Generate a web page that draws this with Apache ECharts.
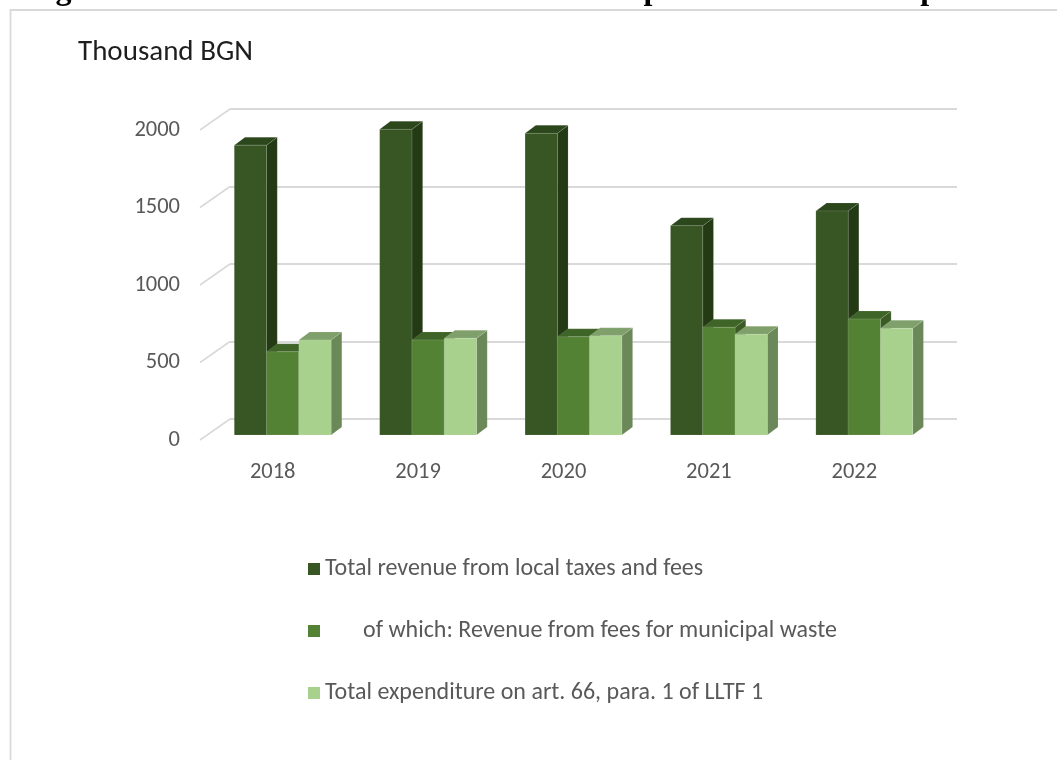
<!DOCTYPE html>
<html>
<head>
<meta charset="utf-8">
<script src="https://cdn.jsdelivr.net/npm/echarts@6/dist/echarts.min.js"></script>
<style>
  html, body { margin: 0; padding: 0; background: #ffffff; }
  #chart { width: 1057px; height: 760px; }
</style>
</head>
<body>
<div id="chart"></div>
<script>
// Years on the category axis
const years = ['2018', '2019', '2020', '2021', '2022'];

// Thousand BGN
const totalRevenue = [1870, 1972, 1946, 1350, 1445];
const wasteFeeRevenue = [537, 613, 634, 695, 748];
const wasteExpenditure = [613, 624, 640, 650, 688];

// Value axis ticks
const yTicks = [0, 500, 1000, 1500, 2000];

const seriesNames = [
  'Total revenue from local taxes and fees',
  '       of which: Revenue from fees for municipal waste',
  'Total expenditure on art. 66, para. 1 of LLTF 1'
];

// Shading for the three visible faces of each column
const faceColors = [
  { front: '#375623', top: '#2c471c', side: '#233a15' },
  { front: '#548235', top: '#3f6427', side: '#3a5c24' },
  { front: '#a9d18e', top: '#7fa06b', side: '#6b8859' }
];

const FONT = 'Carlito, Lato, "Open Sans", sans-serif';

// Oblique projection: the back wall is shifted from the front plane
const WALL = { dx: 30, dy: -21 };
// Column front faces sit slightly behind the front plane; columns have a short depth
const BAR_OFFSET = { dx: 10, dy: -5 };
const BAR_DEPTH = { dx: 10.7, dy: -8 };

const FRONT_GRID = { left: 200, top: 130, width: 727, height: 310 };

function barRenderer(k) {
  const c = faceColors[k];
  return function (params, api) {
    const idx = api.value(0);
    const v = api.value(1);
    const base = api.coord([idx, 0]);
    const top = api.coord([idx, v]);
    const band = api.size([1, 0])[0];
    const bw = band * 0.222;
    const x0 = base[0] - 1.5 * bw + k * bw + BAR_OFFSET.dx;
    const yb = base[1] + BAR_OFFSET.dy;
    const yt = top[1] + BAR_OFFSET.dy;
    const dx = BAR_DEPTH.dx, dy = BAR_DEPTH.dy;
    const edge = 'rgba(255,255,255,0.18)';
    return {
      type: 'group',
      children: [
        {
          type: 'polygon',
          shape: { points: [[x0 + bw, yb], [x0 + bw + dx, yb + dy], [x0 + bw + dx, yt + dy], [x0 + bw, yt]] },
          style: { fill: c.side, stroke: edge, lineWidth: 0.6 }
        },
        {
          type: 'polygon',
          shape: { points: [[x0, yt], [x0 + bw, yt], [x0 + bw + dx, yt + dy], [x0 + dx, yt + dy]] },
          style: { fill: c.top, stroke: edge, lineWidth: 0.6 }
        },
        {
          type: 'rect',
          shape: { x: x0, y: yt, width: bw, height: yb - yt },
          style: { fill: c.front, stroke: edge, lineWidth: 0.6 }
        }
      ]
    };
  };
}

function toPairs(values) {
  return values.map((v, i) => [i, v]);
}

const chart = echarts.init(document.getElementById('chart'), null, { renderer: 'canvas' });

const option = {
  backgroundColor: '#ffffff',
  animation: false,
  textStyle: { fontFamily: FONT },
  title: {
    text: 'Thousand BGN',
    left: 73,
    top: 33,
    textStyle: { fontFamily: FONT, fontSize: 29, fontWeight: 'normal', color: '#1e1e1e' }
  },
  graphic: [
    {
      type: 'rect',
      left: 8, top: 7.5,
      shape: { width: 1100, height: 800 },
      style: { fill: 'none', stroke: '#d9d9d9', lineWidth: 1.8 },
      silent: true, z: -10
    },
    {
      // Figure caption running off the top edge of the page
      type: 'text',
      x: 27, y: 7,
      style: {
        text: 'Figure 1. Revenue from taxes and fees and expenditure on municipal waste',
        fontFamily: '"Liberation Serif", "DejaVu Serif", serif',
        fontSize: 32,
        fontWeight: 'bold',
        lineHeight: 33,
        verticalAlign: 'bottom',
        align: 'left',
        fill: '#000000'
      },
      silent: true
    }
  ],
  legend: {
    orient: 'vertical',
    left: 303,
    top: 552,
    itemGap: 38,
    itemWidth: 12,
    itemHeight: 12,
    icon: 'rect',
    textStyle: { fontFamily: FONT, fontSize: 24, color: '#595959' },
    data: seriesNames
  },
  grid: [
    { left: FRONT_GRID.left, top: FRONT_GRID.top, width: FRONT_GRID.width, height: FRONT_GRID.height },
    { left: FRONT_GRID.left + WALL.dx, top: FRONT_GRID.top + WALL.dy, width: FRONT_GRID.width, height: FRONT_GRID.height }
  ],
  xAxis: [
    {
      type: 'category', gridIndex: 0, data: years,
      axisLine: { show: false }, axisTick: { show: false },
      axisLabel: { margin: 21, fontSize: 22.5, color: '#595959', fontFamily: FONT }
    },
    {
      type: 'category', gridIndex: 1, data: years,
      axisLine: { show: false }, axisTick: { show: false }, axisLabel: { show: false }
    }
  ],
  yAxis: [
    {
      type: 'value', gridIndex: 0, min: yTicks[0], max: yTicks[yTicks.length - 1], interval: 500,
      axisLine: { show: false }, axisTick: { show: false }, splitLine: { show: false },
      axisLabel: {
        margin: 20, fontSize: 22.5, color: '#595959', fontFamily: FONT,
        formatter: function (v) { return String(v); }
      }
    },
    {
      type: 'value', gridIndex: 1, min: yTicks[0], max: yTicks[yTicks.length - 1], interval: 500,
      axisLine: { show: false }, axisTick: { show: false }, axisLabel: { show: false },
      splitLine: { show: true, lineStyle: { color: '#d9d9d9', width: 1.8 } }
    }
  ],
  series: [
    // Side-wall ticks joining the front labels to the back gridlines
    {
      type: 'custom',
      xAxisIndex: 0, yAxisIndex: 0,
      silent: true,
      z: 1,
      data: yTicks.map(v => [0, v]),
      encode: { x: 0, y: 1 },
      renderItem: function (params, api) {
        const p = api.coord([0, api.value(1)]);
        const x = params.coordSys.x;
        return {
          type: 'line',
          shape: { x1: x, y1: p[1], x2: x + WALL.dx, y2: p[1] + WALL.dy },
          style: { stroke: '#d9d9d9', lineWidth: 1.6 }
        };
      }
    },
    {
      name: seriesNames[0], type: 'custom', xAxisIndex: 0, yAxisIndex: 0, z: 2,
      itemStyle: { color: faceColors[0].front },
      data: toPairs(totalRevenue), encode: { x: 0, y: 1 },
      renderItem: barRenderer(0)
    },
    {
      name: seriesNames[1], type: 'custom', xAxisIndex: 0, yAxisIndex: 0, z: 3,
      itemStyle: { color: faceColors[1].front },
      data: toPairs(wasteFeeRevenue), encode: { x: 0, y: 1 },
      renderItem: barRenderer(1)
    },
    {
      name: seriesNames[2], type: 'custom', xAxisIndex: 0, yAxisIndex: 0, z: 4,
      itemStyle: { color: faceColors[2].front },
      data: toPairs(wasteExpenditure), encode: { x: 0, y: 1 },
      renderItem: barRenderer(2)
    }
  ]
};

chart.setOption(option);
</script>
</body>
</html>
